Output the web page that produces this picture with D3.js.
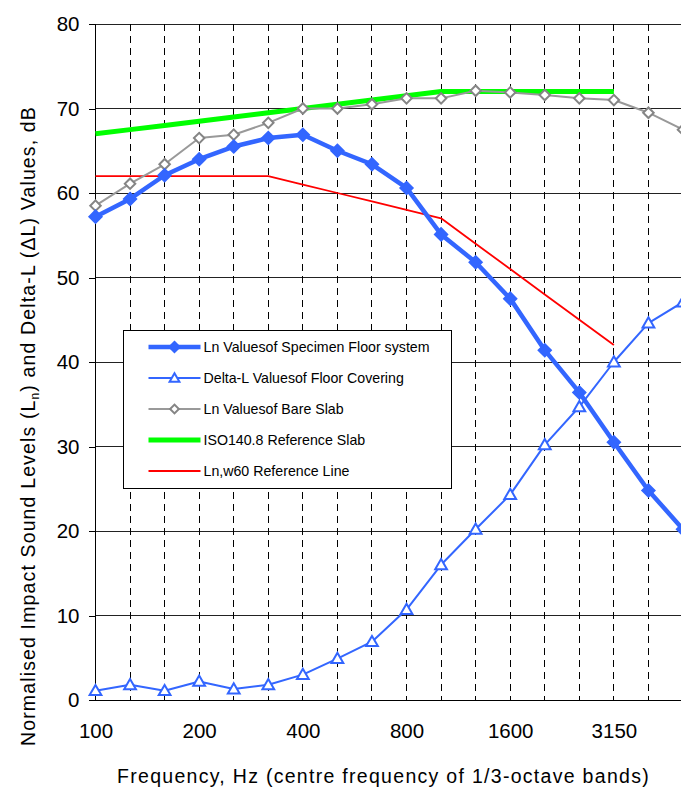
<!DOCTYPE html>
<html>
<head>
<meta charset="utf-8">
<script src="https://cdn.jsdelivr.net/npm/d3@7"></script>
<style>
    body { margin: 0; background: #fff; }
    text { font-family: "Liberation Sans", Arial, sans-serif; fill: #000; }
</style>
</head>
<body>
<div id="chart"></div>
<script>

// 1/3-octave band centre frequencies
const categories = ["100", "125", "160", "200", "250", "315", "400", "500", "630",
    "800", "1000", "1250", "1600", "2000", "2500", "3150", "4000", "5000"];
const tickLabels = ["100", "200", "400", "800", "1600", "3150"];
const yTicks = [0, 10, 20, 30, 40, 50, 60, 70, 80];

// values, dB
const specimenLn = [57.2, 59.3, 62.1, 64.0, 65.5, 66.5, 66.9, 65.0, 63.4,
    60.6, 55.1, 51.8, 47.5, 41.4, 36.4, 30.5, 24.8, 20.2];
const deltaL = [1.1, 1.8, 1.1, 2.2, 1.3, 1.8, 3.0, 4.9, 6.9,
    10.7, 16.0, 20.2, 24.3, 30.2, 34.7, 40.0, 44.6, 47.1];
const bareSlabLn = [58.5, 61.1, 63.4, 66.5, 66.9, 68.3, 70.0, 70.0, 70.5,
    71.2, 71.2, 72.1, 71.9, 71.6, 71.2, 71.0, 69.5, 67.5];
const isoRefSlab = [67, 67.5, 68, 68.5, 69, 69.5, 70, 70.5, 71,
    71.5, 72, 72, 72, 72, 72, 72];
const refLine = [62, 62, 62, 62, 62, 62, 61, 60, 59,
    58, 57, 54, 51, 48, 45, 42];

const seriesNames = ["Ln Valuesof Specimen Floor system", "Delta-L Valuesof Floor Covering",
    "Ln Valuesof Bare Slab", "ISO140.8 Reference Slab", "Ln,w60 Reference Line"];


// stretch a text to a given width with letter-spacing
function fitWidth(sel, target) {
    let node = sel.node();
    let len = node.getComputedTextLength();
    let n = node.textContent.length;
    sel.style("letter-spacing", ((target - len) / n) + "px");
}

class ImpactChart {

    constructor(parentElement) {
        this.parentElement = parentElement;
        this.series = [
            {name: seriesNames[0], values: specimenLn, color: "#3366ff", width: 4.5, marker: "diamond", fill: "#3366ff", stroke: "#3366ff", size: 75},
            {name: seriesNames[1], values: deltaL, color: "#3366ff", width: 2, marker: "triangle", fill: "#fff", stroke: "#3366ff", size: 60},
            {name: seriesNames[2], values: bareSlabLn, color: "#999999", width: 2, marker: "diamond", fill: "#fff", stroke: "#858585", size: 55},
            {name: seriesNames[3], values: isoRefSlab, color: "#00ff00", width: 5, marker: null},
            {name: seriesNames[4], values: refLine, color: "#ff0000", width: 1.8, marker: null}
        ];
        this.initVis();
    }

    initVis() {
        let vis = this;

        vis.width = 681;
        vis.height = 787;
        vis.plot = {left: 95.5, right: 683, top: 24, bottom: 700};

        vis.svg = d3.select("#" + vis.parentElement)
            .append("svg")
            .attr("width", vis.width)
            .attr("height", vis.height)
            .style("display", "block");

        vis.x = d3.scalePoint()
            .domain(categories)
            .range([vis.plot.left, vis.plot.right]);

        vis.y = d3.scaleLinear()
            .domain([0, 80])
            .range([vis.plot.bottom, vis.plot.top]);

        // horizontal grid
        vis.svg.append("g")
            .selectAll("line")
            .data(yTicks.filter(d => d > 0))
            .enter().append("line")
            .attr("x1", vis.plot.left)
            .attr("x2", vis.width)
            .attr("y1", d => vis.y(d))
            .attr("y2", d => vis.y(d))
            .style("stroke", "#222")
            .style("stroke-width", 1)
            .attr("shape-rendering", "crispEdges");

        // vertical dashed grid
        vis.svg.append("g")
            .selectAll("line")
            .data(categories.slice(1))
            .enter().append("line")
            .attr("x1", d => vis.x(d))
            .attr("x2", d => vis.x(d))
            .attr("y1", vis.plot.top)
            .attr("y2", vis.plot.bottom)
            .style("stroke", "#000")
            .style("stroke-width", 1)
            .style("stroke-dasharray", "7,5")
            .attr("shape-rendering", "crispEdges");

        // y axis
        let yAxis = d3.axisLeft(vis.y)
            .tickValues(yTicks)
            .tickSize(7)
            .tickPadding(9);

        vis.svg.append("g")
            .attr("class", "y-axis axis")
            .attr("transform", "translate(" + vis.plot.left + ",0)")
            .call(yAxis)
            .call(g => g.select(".domain").attr("d", "M0," + vis.plot.top + "V" + vis.plot.bottom))
            .call(g => g.selectAll("line, path").style("stroke", "#000").attr("shape-rendering", "crispEdges"))
            .call(g => g.selectAll("text")
                .style("font-size", "20.5px")
                .style("font-family", "'Liberation Sans', Arial, sans-serif"));

        // x axis
        let xAxis = d3.axisBottom(vis.x)
            .tickValues(tickLabels)
            .tickSize(0)
            .tickPadding(23);

        vis.svg.append("g")
            .attr("class", "x-axis axis")
            .attr("transform", "translate(0," + vis.plot.bottom + ")")
            .call(xAxis)
            .call(g => g.select(".domain").attr("d", "M" + vis.plot.left + ",0H" + vis.width))
            .call(g => g.selectAll("path").style("stroke", "#000").attr("shape-rendering", "crispEdges"))
            .call(g => g.selectAll("text")
                .style("font-size", "20.5px")
                .style("font-family", "'Liberation Sans', Arial, sans-serif"));

        // axis titles
        let xTitle = vis.svg.append("text")
            .attr("x", 383.5)
            .attr("y", 783)
            .attr("text-anchor", "middle")
            .style("font-size", "19.5px")
            .text("Frequency, Hz (centre frequency of 1/3-octave bands)");
        fitWidth(xTitle, 533);

        let yTitle = vis.svg.append("text")
            .attr("transform", "translate(35,426) rotate(-90)")
            .attr("text-anchor", "middle")
            .style("font-size", "19.5px");
        yTitle.append("tspan").text("Normalised Impact Sound Levels (L");
        yTitle.append("tspan").text("n").style("font-size", "12px").attr("dy", 4);
        yTitle.append("tspan").text(") and Delta-L (ΔL) Values, dB").attr("dy", -4);
        fitWidth(yTitle, 640);

        vis.updateVis();
    }

    markerPath(s) {
        if (s.marker === "triangle") {
            return d3.symbol(d3.symbolTriangle, s.size)();
        }
        return d3.symbol(d3.symbolSquare, s.size)();
    }

    updateVis() {
        let vis = this;

        let line = d3.line()
            .x((d, i) => vis.x(categories[i]))
            .y(d => vis.y(d));

        // draw order: reference curves underneath the measured series
        let order = [3, 4, 2, 0, 1];

        order.forEach(function(k) {
            let s = vis.series[k];
            let g = vis.svg.append("g").attr("class", "series");

            g.append("path")
                .datum(s.values)
                .attr("d", line)
                .style("fill", "none")
                .style("stroke", s.color)
                .style("stroke-width", s.width)
                .style("stroke-linejoin", "round");

            if (s.marker) {
                g.selectAll(".marker")
                    .data(s.values)
                    .enter().append("path")
                    .attr("class", "marker")
                    .attr("d", vis.markerPath(s))
                    .attr("transform", function(d, i) {
                        let t = "translate(" + vis.x(categories[i]) + "," + vis.y(d) + ")";
                        return s.marker === "diamond" ? t + " rotate(45)" : t + " translate(0,1)";
                    })
                    .style("fill", s.fill)
                    .style("stroke", s.stroke)
                    .style("stroke-width", 2);
            }
        });

        vis.drawLegend();
    }

    drawLegend() {
        let vis = this;

        let legend = vis.svg.append("g")
            .attr("class", "legend")
            .attr("transform", "translate(123.5,330.5)");

        legend.append("rect")
            .attr("width", 328)
            .attr("height", 158)
            .style("fill", "#fff")
            .style("stroke", "#000")
            .style("stroke-width", 1);

        let rows = legend.selectAll(".legend-row")
            .data(vis.series)
            .enter().append("g")
            .attr("class", "legend-row")
            .attr("transform", (d, i) => "translate(0," + (16.5 + i * 31) + ")");

        rows.append("line")
            .attr("x1", 25)
            .attr("x2", 77)
            .style("stroke", d => d.color)
            .style("stroke-width", d => d.width);

        rows.filter(d => d.marker)
            .append("path")
            .attr("d", d => d3.symbol(d.marker === "triangle" ? d3.symbolTriangle : d3.symbolSquare, d.size * 0.7)())
            .attr("transform", d => "translate(51,0)" + (d.marker === "diamond" ? " rotate(45)" : " translate(0,1)"))
            .style("fill", d => d.fill)
            .style("stroke", d => d.stroke)
            .style("stroke-width", 2);

        rows.append("text")
            .attr("x", 80)
            .attr("dy", "0.35em")
            .style("font-size", "14.2px")
            .text(d => d.name);
    }
}

new ImpactChart("chart");
</script>
</body>
</html>
